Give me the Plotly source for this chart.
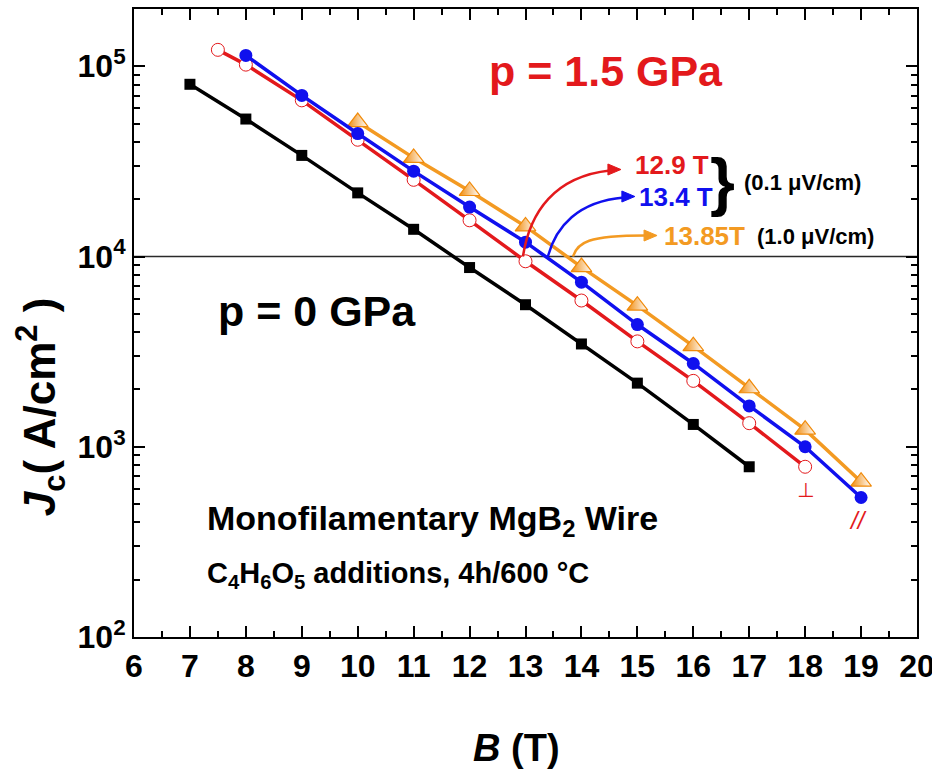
import numpy as np
import plotly.graph_objects as go

# Critical current density Jc (A/cm^2) versus applied field B (T)
B_p0 = [7, 8, 9, 10, 11, 12, 13, 14, 15, 16, 17]
Jc_p0 = [80400, 52800, 34000, 21600, 13900, 8750, 5580, 3470, 2160, 1310, 785]

B_perp = [7.5, 8, 9, 10, 11, 12, 13, 14, 15, 16, 17, 18]
Jc_perp = [122000, 102000, 66200, 41100, 25300, 15500, 9440, 5870, 3580, 2220, 1330, 785]

B_par = [8, 9, 10, 11, 12, 13, 14, 15, 16, 17, 18, 19]
Jc_par = [114000, 70300, 44300, 28100, 18200, 11900, 7330, 4390, 2740, 1640, 1000, 541]

B_par_1uV = [10, 11, 12, 13, 14, 15, 16, 17, 18, 19]
Jc_par_1uV = [50900, 33000, 22100, 14400, 8800, 5520, 3380, 2030, 1230, 655]

# Criterion level and the fields at which each curve crosses it
Jc_criterion = 1e4
B_cross = [12.9, 13.4, 13.85]
cross_labels = ["12.9 T", "13.4 T", "13.85T"]

x_ticks = list(range(6, 21))
y_ticks = [1e2, 1e3, 1e4, 1e5]
y_ticktext = ["10<sup>2</sup>", "10<sup>3</sup>", "10<sup>4</sup>", "10<sup>5</sup>"]

RED = "#e3191c"
BLUE = "#1010ee"
ORANGE = "#f39a22"
ORANGE_MK = "#f08a0a"
FONT = "Liberation Sans, Arial, sans-serif"

fig = go.Figure()

fig.add_trace(go.Scatter(
    x=B_p0, y=Jc_p0, mode="lines+markers",
    line=dict(color="black", width=3.5),
    marker=dict(symbol="square", size=11, color="black"),
))
fig.add_trace(go.Scatter(
    x=B_perp, y=Jc_perp, mode="lines+markers",
    line=dict(color=RED, width=3.5),
    marker=dict(symbol="circle", size=13, color="white",
                line=dict(color=RED, width=1)),
))
fig.add_trace(go.Scatter(
    x=B_par_1uV, y=Jc_par_1uV, mode="lines+markers",
    line=dict(color=ORANGE, width=3.5),
    marker=dict(symbol="triangle-up", size=18, color=ORANGE_MK,
                gradient=dict(type="horizontal", color="white"),
                line=dict(color=ORANGE_MK, width=1.2)),
))
fig.add_trace(go.Scatter(
    x=B_par, y=Jc_par, mode="lines+markers",
    line=dict(color=BLUE, width=3.5),
    marker=dict(symbol="circle", size=13, color=BLUE),
))

# Horizontal criterion line
fig.add_shape(type="line", xref="paper", yref="y", x0=0, x1=1,
              y0=Jc_criterion, y1=Jc_criterion,
              line=dict(color="#2a2a2a", width=1.5), layer="below")

# Curved arrows from each crossing point to its label (pixel offsets
# relative to the crossing point on the criterion line)
arrow_curves = [
    ("M 3,0 C 10,45 35,80 90,86", "M 101,87 L 88,92.5 L 88,81.5 Z"),
    ("M 0,0 C 8,30 30,55 76,59", "M 87,60 L 74,65.5 L 74,54.5 Z"),
    ("M 0,0 C 4,14 15,21 72,21", "M 84,21 L 71,26.5 L 71,15.5 Z"),
]
arrow_colors = [RED, BLUE, ORANGE]
for bc, (curve, head), col in zip(B_cross, arrow_curves, arrow_colors):
    common = dict(xref="x", yref="y", xsizemode="pixel", ysizemode="pixel",
                  xanchor=bc, yanchor=Jc_criterion)
    fig.add_shape(type="path", path=curve, line=dict(color=col, width=2.5),
                  **common)
    fig.add_shape(type="path", path=head, fillcolor=col,
                  line=dict(color=col, width=1), **common)

label_pos = [(0.637, 0.752), (0.642, 0.7006), (0.6743, 0.6385)]
for txt, (px, py), col in zip(cross_labels, label_pos, arrow_colors):
    fig.add_annotation(x=px, y=py, xref="paper", yref="paper", text=txt,
                       showarrow=False, xanchor="left", yanchor="middle",
                       font=dict(family=FONT, size=26, color=col, weight="bold"))

fig.add_annotation(x=0.752, y=0.7245, xref="paper", yref="paper", text="}",
                   showarrow=False, xanchor="center", yanchor="middle",
                   font=dict(family=FONT, size=64, color="black", weight="bold"))
fig.add_annotation(x=0.7765, y=0.723, xref="paper", yref="paper",
                   text="(0.1 \u03bcV/cm)", showarrow=False,
                   xanchor="left", yanchor="middle",
                   font=dict(family=FONT, size=22, color="black", weight="bold"))
fig.add_annotation(x=0.793, y=0.6385, xref="paper", yref="paper",
                   text="(1.0 \u03bcV/cm)", showarrow=False,
                   xanchor="left", yanchor="middle",
                   font=dict(family=FONT, size=22, color="black", weight="bold"))

# Pressure labels
fig.add_annotation(x=0.603, y=0.901, xref="paper", yref="paper",
                   text="p = 1.5 GPa", showarrow=False,
                   xanchor="center", yanchor="middle",
                   font=dict(family=FONT, size=43, color=RED, weight="bold"))
fig.add_annotation(x=0.2337, y=0.519, xref="paper", yref="paper",
                   text="p = 0 GPa", showarrow=False,
                   xanchor="center", yanchor="middle",
                   font=dict(family=FONT, size=43, color="black", weight="bold"))

# Sample description
fig.add_annotation(x=0.0907, y=0.185, xref="paper", yref="paper",
                   text="Monofilamentary MgB<sub>2</sub> Wire", showarrow=False,
                   xanchor="left", yanchor="middle",
                   font=dict(family=FONT, size=34, color="black", weight="bold"))
fig.add_annotation(x=0.0907, y=0.0987, xref="paper", yref="paper",
                   text="C<sub>4</sub>H<sub>6</sub>O<sub>5</sub> additions, 4h/600 \u00b0C",
                   showarrow=False, xanchor="left", yanchor="middle",
                   font=dict(family=FONT, size=29, color="black", weight="bold"))

# Field orientation marks
fig.add_annotation(x=0.857, y=0.234, xref="paper", yref="paper",
                   text="\u22a5", showarrow=False,
                   xanchor="center", yanchor="middle",
                   font=dict(family="DejaVu Sans", size=20, color=RED))
fig.add_annotation(x=0.9246, y=0.186, xref="paper", yref="paper",
                   text="<i>//</i>", showarrow=False,
                   xanchor="center", yanchor="middle",
                   font=dict(family=FONT, size=24, color=RED))

# Axis titles
fig.add_annotation(x=-0.12, y=0.366, xref="paper", yref="paper",
                   text="<i>J</i><sub>c</sub>( A/cm<sup>2</sup> )",
                   showarrow=False, textangle=-90,
                   xanchor="center", yanchor="middle",
                   font=dict(family=FONT, size=44, color="black", weight="bold"))
fig.add_annotation(x=0.489, y=-0.176, xref="paper", yref="paper",
                   text="<i>B</i> (T)", showarrow=False,
                   xanchor="center", yanchor="middle",
                   font=dict(family=FONT, size=38, color="black", weight="bold"))

tickfont = dict(family=FONT, size=32, color="black", weight="bold")
fig.update_xaxes(
    range=[6, 20], tickvals=x_ticks, ticks="inside", ticklen=11, tickwidth=2,
    tickcolor="black", showline=True, linecolor="black", linewidth=2,
    mirror="allticks", showgrid=False, zeroline=False, tickfont=tickfont,
    ticklabeloverflow="allow", automargin=False,
    minor=dict(dtick=0.5, ticks="inside", ticklen=6, tickwidth=1.5,
               tickcolor="black", showgrid=False),
)
y_minor = [m * 10 ** d for d in range(2, 6) for m in range(2, 10) if m * 10 ** d <= 2e5]
fig.update_yaxes(
    type="log", range=[2, np.log10(2e5)], tickvals=y_ticks, ticktext=y_ticktext,
    ticks="inside", ticklen=11, tickwidth=2, tickcolor="black",
    showline=True, linecolor="black", linewidth=2, mirror="allticks",
    showgrid=False, zeroline=False, tickfont=tickfont, automargin=False,
    minor=dict(tickvals=y_minor, ticks="inside", ticklen=6, tickwidth=1.5,
               tickcolor="black", showgrid=False),
)

fig.update_layout(
    width=932, height=771,
    margin=dict(l=134, r=15, t=9, b=134, autoexpand=False),
    paper_bgcolor="white", plot_bgcolor="white",
    showlegend=False,
)

fig.write_html("out.html")
